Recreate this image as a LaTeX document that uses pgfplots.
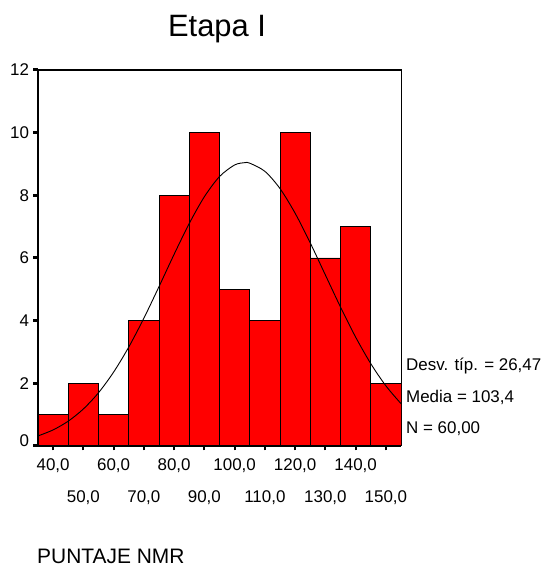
\documentclass[border=0pt]{standalone}
\usepackage{pgfplots}
\pgfplotsset{compat=1.18}
\usepackage{fontspec}
\setmainfont{Liberation Sans}
\begin{document}
\begin{tikzpicture}
\path[use as bounding box] (0,0) rectangle (543bp,568bp);
\begin{axis}[
  at={(38bp,122bp)}, anchor=south west,
  scale only axis, width=363bp, height=376bp,
  xmin=35, xmax=155, ymin=0, ymax=12,
  axis line style={line width=1bp},
  tick align=outside,
  xtick pos=left, ytick pos=left,
  ytick={0,2,4,6,8,10,12},
  yticklabels={\raisebox{10bp}{0},2,4,6,8,10,12},
  ytick style={line width=3bp, black},
  major tick length=4.5bp,
  yticklabel style={font=\fontsize{17}{19}\selectfont, xshift=-1bp},
  xtick={40,60,80,100,120,140},
  xticklabels={{40,0},{60,0},{80,0},{100,0},{120,0},{140,0}},
  extra x ticks={50,70,90,110,130,150},
  extra x tick labels={{50,0},{70,0},{90,0},{110,0},{130,0},{150,0}},
  extra x tick style={xticklabel style={yshift=-32bp}, tick style={line width=2bp, black}},
  xtick style={line width=2bp, black},
  xticklabel style={font=\fontsize{17}{19}\selectfont, yshift=-5bp},
  /pgf/number format/assume math mode=true,
  clip=true,
]
\addplot[ybar interval, fill=red, draw=black, line width=0.9bp] coordinates {
(35,1) (45,2) (55,1) (65,4) (75,8) (85,10) (95,5) (105,4) (115,10) (125,6) (135,7) (145,2) (155,2)
};
\addplot[black, line width=0.9bp, smooth, no marks] coordinates {
(35,0.321) (40,0.514) (45,0.793) (50,1.182) (55,1.699) (60,2.359) (65,3.157)
(70,4.079) (75,5.086) (80,6.118) (85,7.102) (90,7.955) (95,8.599) (100,8.969)
(103.4,9.043) (105,9.026) (110,8.766) (115,8.216) (120,7.429) (125,6.482)
(130,5.458) (135,4.435) (140,3.476) (145,2.630) (150,1.920) (155,1.352)
};
\end{axis}
\draw[line width=2bp] (38bp,498bp) -- (38bp,122bp) -- (401bp,122bp);
\draw[line width=1.6bp] (38bp,498bp) -- (401bp,498bp);
\node[font=\fontsize{31}{34}\selectfont] at (217bp,539bp) {Etapa I};
\node[anchor=west, font=\fontsize{17}{19}\selectfont, inner sep=0pt] at (406bp,202bp) {Desv. típ. = 26,47};
\node[anchor=west, font=\fontsize{17}{19}\selectfont, inner sep=0pt] at (406bp,171bp) {Media = 103,4};
\node[anchor=west, font=\fontsize{17}{19}\selectfont, inner sep=0pt] at (406bp,139bp) {N = 60,00};
\node[anchor=west, font=\fontsize{21}{23}\selectfont, inner sep=0pt] at (37bp,12bp) {PUNTAJE NMR};
\end{tikzpicture}
\end{document}
